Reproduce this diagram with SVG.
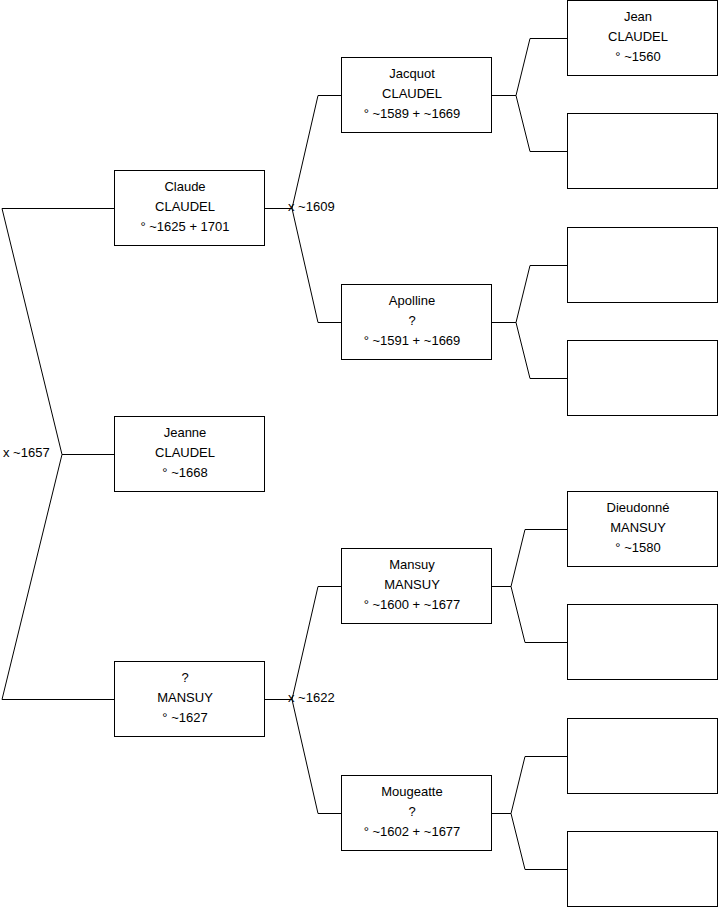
<svg xmlns="http://www.w3.org/2000/svg" width="719" height="908" viewBox="0 0 719 908">
<style>
.box{fill:#fff;stroke:#000;stroke-width:1}
.c{fill:none;stroke:#000;stroke-width:1}
text{font-family:"Liberation Sans",Arial,sans-serif;font-size:13px;fill:#000}
.t{text-anchor:middle}
</style>
<rect width="719" height="908" fill="#fff"/>
<g id="connectors">
<path class="c" d="M114 208.5H2L62 454.5L2 699.5H114M62 454.5H114"/>
<path class="c" d="M265 208.5H292L318 95.5H341M292 208.5L318 322.5H341"/>
<path class="c" d="M265 699.5H292L318 586.5H341M292 699.5L318 813.5H341"/>
<path class="c" d="M492 95.5H516L530 38.5H567M516 95.5L530 151.5H567"/>
<path class="c" d="M492 322.5H516L530 265.5H567M516 322.5L530 378.5H567"/>
<path class="c" d="M492 586.5H511L525 529.5H567M511 586.5L525 642.5H567"/>
<path class="c" d="M492 813.5H511L525 756.5H567M511 813.5L525 869.5H567"/>
<text x="3" y="457">x ~1657</text>
<text x="288" y="211">x ~1609</text>
<text x="288" y="702">x ~1622</text>
</g>
<g id="claude"><rect class="box" x="114.5" y="170.5" width="150" height="75"/>
<text class="t" x="185" y="191">Claude</text><text class="t" x="185" y="211">CLAUDEL</text><text class="t" x="185" y="231">° ~1625 + 1701</text></g>
<g id="jeanne"><rect class="box" x="114.5" y="416.5" width="150" height="75"/>
<text class="t" x="185" y="437">Jeanne</text><text class="t" x="185" y="457">CLAUDEL</text><text class="t" x="185" y="477">° ~1668</text></g>
<g id="mansuy1"><rect class="box" x="114.5" y="661.5" width="150" height="75"/>
<text class="t" x="185" y="682">?</text><text class="t" x="185" y="702">MANSUY</text><text class="t" x="185" y="722">° ~1627</text></g>
<g id="jacquot"><rect class="box" x="341.5" y="57.5" width="150" height="75"/>
<text class="t" x="412" y="78">Jacquot</text><text class="t" x="412" y="98">CLAUDEL</text><text class="t" x="412" y="118">° ~1589 + ~1669</text></g>
<g id="apolline"><rect class="box" x="341.5" y="284.5" width="150" height="75"/>
<text class="t" x="412" y="305">Apolline</text><text class="t" x="412" y="325">?</text><text class="t" x="412" y="345">° ~1591 + ~1669</text></g>
<g id="mansuy2"><rect class="box" x="341.5" y="548.5" width="150" height="75"/>
<text class="t" x="412" y="569">Mansuy</text><text class="t" x="412" y="589">MANSUY</text><text class="t" x="412" y="609">° ~1600 + ~1677</text></g>
<g id="mougeatte"><rect class="box" x="341.5" y="775.5" width="150" height="75"/>
<text class="t" x="412" y="796">Mougeatte</text><text class="t" x="412" y="816">?</text><text class="t" x="412" y="836">° ~1602 + ~1677</text></g>
<g id="jean"><rect class="box" x="567.5" y="0.5" width="150" height="75"/>
<text class="t" x="638" y="21">Jean</text><text class="t" x="638" y="41">CLAUDEL</text><text class="t" x="638" y="61">° ~1560</text></g>
<g id="empty1"><rect class="box" x="567.5" y="113.5" width="150" height="75"/></g>
<g id="empty2"><rect class="box" x="567.5" y="227.5" width="150" height="75"/></g>
<g id="empty3"><rect class="box" x="567.5" y="340.5" width="150" height="75"/></g>
<g id="dieudonne"><rect class="box" x="567.5" y="491.5" width="150" height="75"/>
<text class="t" x="638" y="512">Dieudonné</text><text class="t" x="638" y="532">MANSUY</text><text class="t" x="638" y="552">° ~1580</text></g>
<g id="empty4"><rect class="box" x="567.5" y="604.5" width="150" height="75"/></g>
<g id="empty5"><rect class="box" x="567.5" y="718.5" width="150" height="75"/></g>
<g id="empty6"><rect class="box" x="567.5" y="831.5" width="150" height="75"/></g>
</svg>
